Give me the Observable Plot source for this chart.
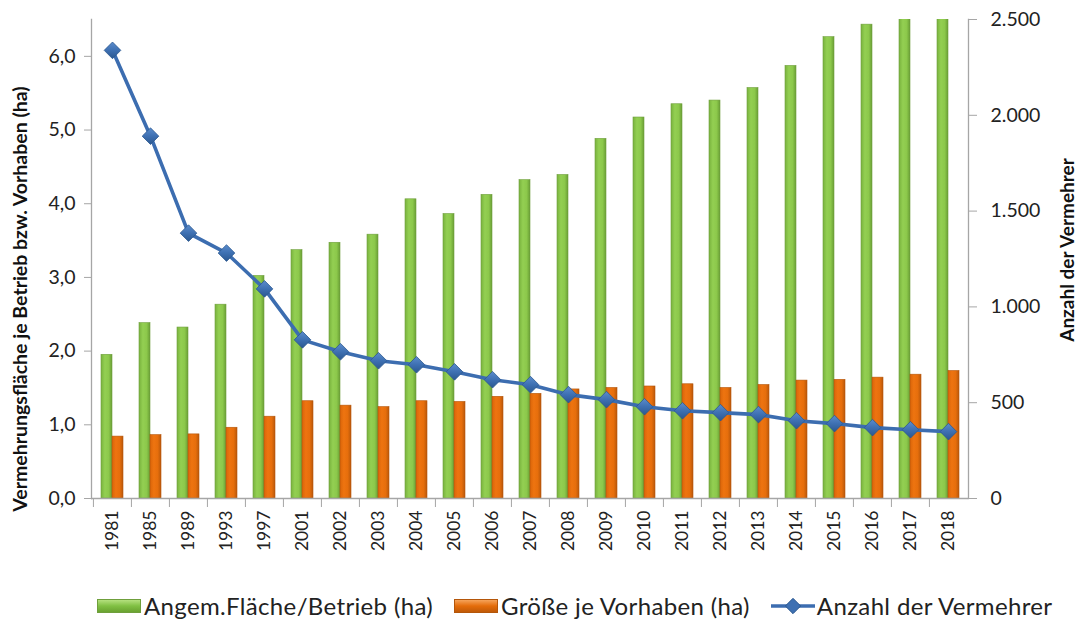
<!DOCTYPE html>
<html>
<head>
<meta charset="utf-8">
<script src="https://cdn.jsdelivr.net/npm/d3@7"></script>
<script src="https://cdn.jsdelivr.net/npm/@observablehq/plot@0.6"></script>
<style>
  html, body { margin: 0; padding: 0; background: #fff; }
  #chart { width: 1077px; height: 578px; }
  .legend { display: flex; align-items: center; height: 41px; font-family: Lato, "Open Sans", sans-serif; font-size: 24px; letter-spacing: 0.35px; color: #222; padding-left: 97px; margin-top: 7px; }
  .legend .item { display: flex; align-items: center; margin-right: 21px; }
  .sw { width: 42px; height: 12px; margin-right: 3px; }
</style>
</head>
<body>
<div id="chart"></div>
<script>
const years = ["1981","1985","1989","1993","1997","2001","2002","2003","2004","2005","2006","2007","2008","2009","2010","2011","2012","2013","2014","2015","2016","2017","2018"];
const flaecheBetrieb = [1.95,2.38,2.32,2.63,3.02,3.37,3.47,3.58,4.06,3.86,4.12,4.32,4.39,4.88,5.17,5.35,5.40,5.57,5.87,6.26,6.43,6.75,6.90];
const groesseVorhaben = [0.84,0.86,0.87,0.96,1.11,1.32,1.26,1.24,1.32,1.31,1.38,1.42,1.48,1.50,1.52,1.55,1.50,1.54,1.60,1.61,1.64,1.68,1.73];
const anzahlVermehrer = [2339,1891,1385,1281,1094,828,766,719,698,661,620,594,542,516,479,458,448,438,406,391,370,359,349];
const leftTicks = [0,1,2,3,4,5,6];
const rightTicks = [0,500,1000,1500,2000,2500];
const seriesNames = ["Angem.Fläche/Betrieb (ha)", "Größe je Vorhaben (ha)", "Anzahl der Vermehrer"];

const leftMax = 6.5, rightMax = 2500;
const k = leftMax / rightMax;
const de = d3.formatLocale({decimal: ",", thousands: ".", grouping: [3], currency: ["", " €"]});
const fmt1 = de.format(",.1f");
const fmt0 = de.format(",.0f");

const data = years.map((y, i) => ({year: y, a: flaecheBetrieb[i], b: groesseVorhaben[i], c: anzahlVermehrer[i]}));

const W = 1077, H = 578, ML = 91, MR = 109, MT = 19, MB = 80;
const step = (W - ML - MR) / years.length;
const barW = 11;
const pad = 1 - (2 * barW) / step;
const axisColor = "#a6a6a6";
const font = "Lato, 'Open Sans', sans-serif";

const chart = Plot.plot({
  width: W, height: H,
  marginLeft: ML, marginRight: MR, marginTop: MT, marginBottom: MB,
  style: {fontFamily: font, fontSize: "17px", color: "#222", background: "#fff"},
  x: {domain: years, paddingInner: pad, paddingOuter: pad / 2, axis: null, label: null},
  y: {domain: [0, leftMax], axis: null, label: null},
  marks: [
    Plot.barY(data, {x: "year", y: "a", insetRight: barW, fill: "url(#gGreen)", stroke: "#6f9f3c", strokeWidth: 0.6, clip: true}),
    Plot.barY(data, {x: "year", y: "b", insetLeft: barW, fill: "url(#gOrange)", stroke: "#b4560a", strokeWidth: 0.6, clip: true}),
    Plot.ruleY([0], {stroke: axisColor, strokeWidth: 1.3}),
    Plot.frame({anchor: "left", stroke: axisColor, strokeWidth: 1.3}),
    Plot.frame({anchor: "right", stroke: axisColor, strokeWidth: 1.3}),
    // category separators
    Plot.axisX({tickSize: 9, tickFormat: () => "", dx: -step / 2, stroke: axisColor, label: null}),
    Plot.axisX({tickSize: 0, tickPadding: 12, tickRotate: -90, fontSize: 17.5, label: null}),
    Plot.axisY(leftTicks, {anchor: "left", tickSize: 7, tickPadding: 9, tickFormat: fmt1, stroke: axisColor, fontSize: 19.5, label: null}),
    Plot.axisY(rightTicks.map(v => v * k), {anchor: "right", tickSize: 8, tickPadding: 14, tickFormat: d => fmt0(Math.round(d / k)), stroke: axisColor, fontSize: 19.5, label: null}),
    Plot.line(data, {x: "year", y: d => d.c * k, stroke: "#3c6db0", strokeWidth: 3.6}),
    Plot.dot(data, {x: "year", y: d => d.c * k, symbol: "diamond2", r: 7.5, fill: "url(#gBlue)", stroke: "#2b5890", strokeWidth: 0.8}),
    Plot.text(["Vermehrungsfläche je Betrieb bzw. Vorhaben (ha)"], {frameAnchor: "left", textAnchor: "middle", dx: -71, dy: 40, rotate: -90, fontWeight: "bold", fontSize: 19.5, fill: "#111"}),
    Plot.text(["Anzahl der Vermehrer"], {frameAnchor: "right", textAnchor: "middle", dx: 99, dy: -9, rotate: -90, fontWeight: "bold", fontSize: 19, fill: "#111"})
  ]
});

// gradients for a bevelled look
const defs = d3.select(chart).insert("defs", ":first-child");
function grad(id, stops, vertical) {
  const g = defs.append("linearGradient").attr("id", id).attr("x1", 0).attr("y1", 0).attr("x2", vertical ? 0 : 1).attr("y2", vertical ? 1 : 0);
  stops.forEach(([o, c]) => g.append("stop").attr("offset", o).attr("stop-color", c));
}
grad("gGreen", [[0, "#78b23d"], [0.35, "#93cf52"], [0.7, "#8cc84b"], [1, "#699e35"]]);
grad("gOrange", [[0, "#d9650a"], [0.35, "#ee7410"], [0.7, "#e66e0c"], [1, "#b9580a"]]);
grad("gBlue", [[0, "#5b8ccc"], [0.5, "#3e70b2"], [1, "#2b5890"]], true);

document.getElementById("chart").appendChild(chart);

// legend
const legend = d3.select("body").append("div").attr("class", "legend");
const it1 = legend.append("div").attr("class", "item");
it1.append("div").attr("class", "sw").style("background", "linear-gradient(#b4e07e, #80c043 50%, #6aa231)").style("border", "1px solid #6f9f3c");
it1.append("span").text(seriesNames[0]);
const it2 = legend.append("div").attr("class", "item");
it2.append("div").attr("class", "sw").style("background", "linear-gradient(#f5a35a, #e46c0a 50%, #c05a08)").style("border", "1px solid #b4560a");
it2.append("span").text(seriesNames[1]);
const it3 = legend.append("div").attr("class", "item");
const s3 = it3.append("svg").attr("width", 44).attr("height", 20).style("margin-right", "2px");
s3.append("line").attr("x1", 0).attr("x2", 44).attr("y1", 10).attr("y2", 10).attr("stroke", "#3c6db0").attr("stroke-width", 3.6);
s3.append("path").attr("d", d3.symbol(d3.symbolDiamond2, 150)()).attr("transform", "translate(22,10)").attr("fill", "#3e70b2").attr("stroke", "#2b5890");
it3.append("span").text(seriesNames[2]);
</script>
</body>
</html>
